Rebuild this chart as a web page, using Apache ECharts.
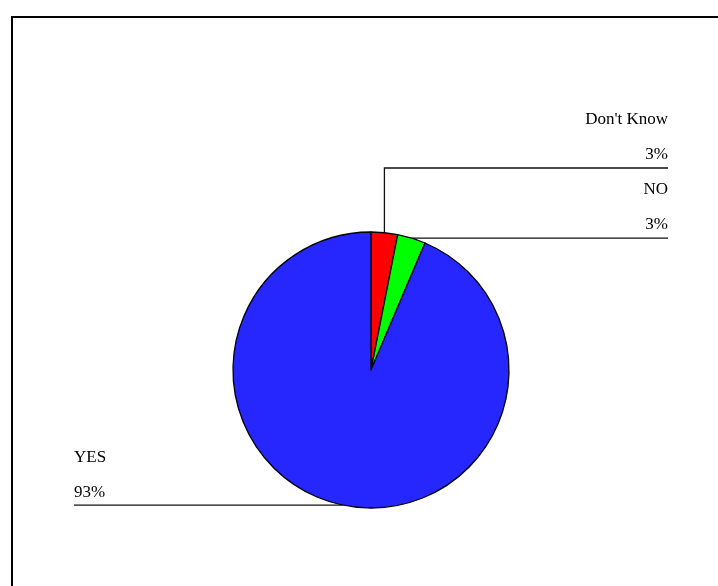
<!DOCTYPE html>
<html>
<head>
<meta charset="utf-8">
<script src="https://cdn.jsdelivr.net/npm/echarts@6/dist/echarts.min.js"></script>
<style>
html,body{margin:0;padding:0;background:#fff;}
#main{width:718px;height:586px;}
</style>
</head>
<body>
<div id="main"></div>
<script>
var categories = ["Don't Know", "NO", "YES"];
var values = [3.1, 3.3, 93.6];
var percentLabels = ["3%", "3%", "93%"];
var colors = ['#ff0000', '#00ff00', '#2626ff'];

var chart = echarts.init(document.getElementById('main'), null, {renderer: 'canvas'});
var data = categories.map(function (c, i) {
  return { name: c, value: values[i], itemStyle: { color: colors[i] } };
});

chart.setOption({
  animation: false,
  backgroundColor: '#ffffff',
  graphic: [{
    type: 'rect',
    shape: { x: 12, y: 17, width: 1200, height: 1200 },
    style: { fill: null, stroke: '#000', lineWidth: 2 },
    silent: true
  }],
  series: [{
    type: 'pie',
    center: [371, 370],
    radius: [0, 138],
    startAngle: 90,
    clockwise: true,
    data: data,
    emphasis: { disabled: true },
    itemStyle: { borderColor: '#000', borderWidth: 1.3 },
    label: {
      show: true,
      fontFamily: 'Liberation Serif',
      fontSize: 17,
      color: '#000',
      lineHeight: 35,
      formatter: function (p) { return p.name + '\n' + percentLabels[p.dataIndex]; }
    },
    labelLine: {
      show: true,
      lineStyle: { color: '#111', width: 1.3 }
    },
    labelLayout: function (params) {
      var p0 = params.labelLinePoints ? params.labelLinePoints[0] : [0, 0];
      var i = params.dataIndex;
      if (i === 0) {
        var ly = 168;
        return {
          x: 668, y: ly - 66, align: 'right', verticalAlign: 'top',
          labelLinePoints: [p0, [p0[0], ly], [668, ly]]
        };
      } else if (i === 1) {
        var ly1 = p0[1];
        return {
          x: 668, y: ly1 - 66, align: 'right', verticalAlign: 'top',
          labelLinePoints: [p0, [p0[0] + 1, ly1], [668, ly1]]
        };
      } else {
        var ly2 = p0[1];
        return {
          x: 74, y: ly2 - 65, align: 'left', verticalAlign: 'top',
          labelLinePoints: [p0, [p0[0] - 1, ly2], [74, ly2]]
        };
      }
    }
  }]
});
</script>
</body>
</html>
